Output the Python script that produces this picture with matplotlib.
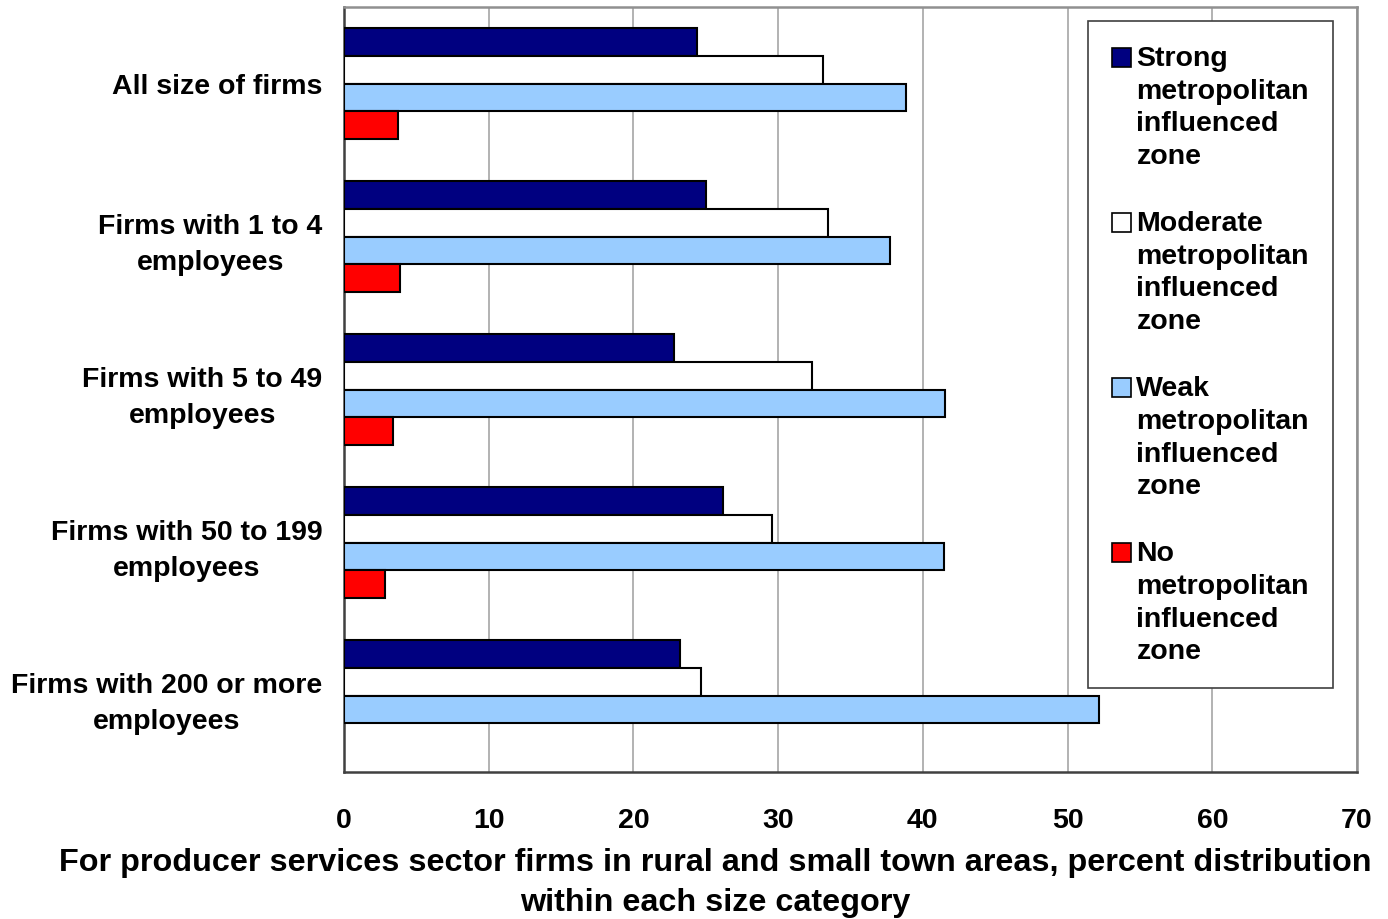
import numpy as np
import matplotlib.pyplot as plt
from matplotlib.patches import Rectangle
from matplotlib.legend_handler import HandlerBase

plt.rcParams['font.family'] = ['Liberation Sans', 'DejaVu Sans']
plt.rcParams['font.weight'] = 'bold'

# Percent distribution by firm size and metropolitan influence zone
categories = ['All size of firms', 'Firms with 1 to 4\nemployees',
              'Firms with 5 to 49\nemployees', 'Firms with 50 to 199\nemployees',
              'Firms with 200 or more\nemployees']
strong = [24.4, 25.0, 22.8, 26.2, 23.2]
moderate = [33.1, 33.45, 32.35, 29.6, 24.65]
weak = [38.85, 37.7, 41.5, 41.45, 52.2]
no_zone = [3.7, 3.9, 3.4, 2.8, 0.0]

series = [strong, moderate, weak, no_zone]
labels = ['Strong\nmetropolitan\ninfluenced\nzone',
          'Moderate\nmetropolitan\ninfluenced\nzone',
          'Weak\nmetropolitan\ninfluenced\nzone',
          'No\nmetropolitan\ninfluenced\nzone']
colors = ['#000080', '#FFFFFF', '#99CCFF', '#FF0000']
xticks = [0, 10, 20, 30, 40, 50, 60, 70]

FS = 20.5
LEG_LS = 1.33


class TopSquare(HandlerBase):
    # legend square placed next to the first line of a multi-line label
    def create_artists(self, legend, orig_handle, xdescent, ydescent,
                       width, height, fontsize, trans):
        shift = 1.5 * 33 * 0.72
        r = Rectangle((-xdescent, -ydescent + shift), width, height,
                      facecolor=orig_handle.get_facecolor(),
                      edgecolor='black', linewidth=1.2, transform=trans)
        return [r]


fig = plt.figure(figsize=(13.88, 9.2), dpi=100)
ax = fig.add_axes([344/1388, 1 - 773/920, 1013/1388, 765/920])

y = np.arange(len(categories))
h = 0.183
handles = []
for k, (vals, lab, col) in enumerate(zip(series, labels, colors)):
    bars = ax.barh(y + (k - 1.5) * h, vals, height=h, color=col, edgecolor='black',
                   linewidth=[1.5 if v > 0 else 0 for v in vals], label=lab, zorder=3)
    handles.append(bars[0])

ax.set_ylim(len(categories) - 0.5, -0.5)
ax.set_xlim(0, 70)
ax.set_xticks(xticks)
ax.set_xticklabels([str(t) for t in xticks], fontsize=FS, fontweight='bold')
ax.set_yticks(y)
ax.set_yticklabels(categories, fontsize=FS, fontweight='bold', linespacing=1.48)
for t in ax.get_yticklabels():
    t.set_multialignment('center')
ax.tick_params(axis='both', length=0)
ax.tick_params(axis='y', pad=15.5)
ax.tick_params(axis='x', pad=25)

ax.grid(axis='x', color='#A6A6A6', linewidth=1.2, zorder=0)
for side in ['left', 'bottom']:
    ax.spines[side].set_color('#404040')
    ax.spines[side].set_linewidth(1.8)
for side in ['top', 'right']:
    ax.spines[side].set_color('#909090')
    ax.spines[side].set_linewidth(1.8)

leg = ax.legend(handles, labels, loc='upper left', bbox_to_anchor=(0.7345, 0.9817),
                prop={'size': FS, 'weight': 'bold'}, fancybox=False,
                edgecolor='#404040', framealpha=1, handlelength=0.65,
                handleheight=0.65, handletextpad=0.2, borderpad=0.85,
                labelspacing=1.45, borderaxespad=0,
                handler_map={type(handles[0]): TopSquare()})
leg.get_frame().set_linewidth(1.2)
for t in leg.get_texts():
    t.set_linespacing(LEG_LS)

fig.text(715/1388, 1 - 883/920,
         'For producer services sector firms in rural and small town areas, percent distribution\nwithin each size category',
         ha='center', va='center', fontsize=23.3, fontweight='bold', linespacing=1.41)

fig.savefig('out.png', dpi=100)
